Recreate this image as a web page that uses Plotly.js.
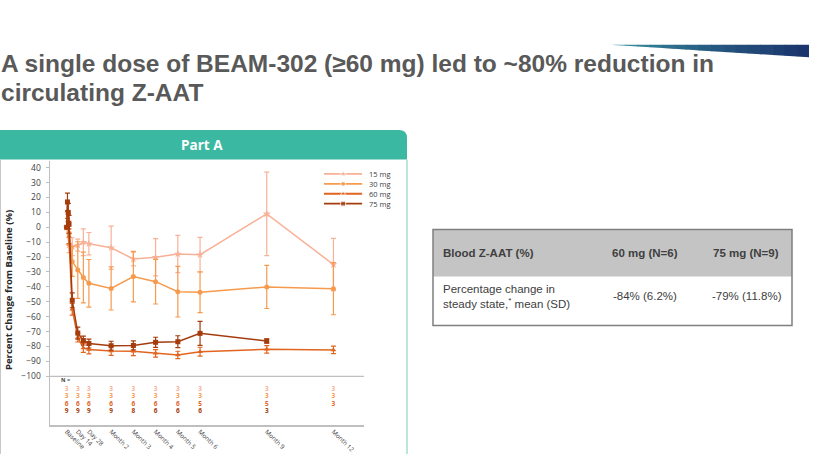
<!DOCTYPE html>
<html><head><meta charset="utf-8">
<script src="https://cdn.plot.ly/plotly-3.0.1.min.js"></script>
<style>html,body{margin:0;padding:0;background:#fff;overflow:hidden}#chart{width:831px;height:454px}</style>
</head><body><div id="chart"></div>
<script>
const W = 831, H = 454;
// ---- data (days from baseline; months = 28-day blocks) ----
const days = [0, 1, 2, 3, 7, 14, 21, 28, 56, 84, 112, 140, 168, 252, 336];
const mg15 = [0, null, null, -12, -13, -12, -10, -11, -13.7, -21.3, -20.1, -17.9, -18.4, 9, -25];
const sd15 = [0, null, null, 5, 6, 4, 9, 7.5, 14.5, 4.6, 12.5, 12.5, 11.6, 28, 17.5];
const mg30 = [0, null, null, -4, -23, -28.7, -33.7, -37.6, -41, -33.1, -36.5, -43.2, -43.6, -40, -41.2];
const sd30 = [0, null, null, 8, 10, 19, 17, 16, 14.5, 17, 15, 17, 13.7, 14.5, 17.5];
const mg60 = [0, 11, 4, -6, -55, -74, -81, -82, -83, -83.2, -84.6, -85.7, -83.5, -81.9, -82.3];
const sd60 = [0, 5, 5, 5, 4, 3, 3, 3, 3, 3, 2.5, 2.5, 3, 2.5, 2.5];
const mg75 = [0, 17, 10, 2, -49, -71, -76, -78, -79.5, -79.3, -77.2, -76.8, -71.2, -76.3, null];
const sd75 = [0, 6, 6, 6, 5, 4, 3, 3, 3, 3, 3.4, 4, 8, 1.5, null];
const seriesNames = ['15 mg', '30 mg', '60 mg', '75 mg'];
const tickDays = [0, 14, 28, 56, 84, 112, 140, 168, 252, 336];
const tickLabels = ['Baseline', 'Day 14', 'Day 28', 'Month 2', 'Month 3', 'Month 4', 'Month 5', 'Month 6', 'Month 9', 'Month 12'];
const yTicks = [40, 30, 20, 10, 0, -10, -20, -30, -40, -50, -60, -70, -80, -90, -100];
const n15 = [3, 3, 3, 3, 3, 3, 3, 3, 3, 3];
const n30 = [3, 3, 3, 3, 3, 3, 3, 3, 3, 3];
const n60 = [6, 6, 6, 6, 6, 6, 6, 5, 5, 3];
const n75 = [9, 9, 9, 9, 8, 6, 6, 6, 3, null];
const tableHeader = ['Blood Z-AAT (%)', '60 mg (N=6)', '75 mg (N=9)'];
const tableRow = ['Percentage change in<br>steady state,<sup>*</sup> mean (SD)', '-84% (6.2%)', '-79% (11.8%)'];
const titleLines = ['A single dose of BEAM-302 (\u226560 mg) led to ~80% reduction in', 'circulating Z-AAT'];

// ---- styles ----
const colors = ['#F8B197', '#F79A4E', '#E2651F', '#A43C0D'];
const symbols = ['star', 'circle', 'triangle-up', 'square'];
const chartFont = 'Open Sans, Noto Sans, sans-serif';
const px = x => x / W, py = y => 1 - y / H;

const vals = [mg15, mg30, mg60, mg75];
const sds = [sd15, sd30, sd60, sd75];
const ns = [n15, n30, n60, n75];
const nRowY = [-108.5, -113.5, -118.6, -123.8];

const traces = [];
vals.forEach((v, i) => {
  traces.push({
    type: 'scatter', mode: 'lines+markers', x: days, y: v, name: seriesNames[i],
    connectgaps: true, showlegend: false, cliponaxis: false,
    line: {color: colors[i], width: 1.5},
    marker: {color: colors[i], symbol: symbols[i], size: i === 0 ? 6 : 5},
    error_y: {type: 'data', array: sds[i], visible: true, color: colors[i], thickness: 1.2, width: 2.5}
  });
});
ns.forEach((n, i) => {
  const idx = n.map((v, k) => v == null ? -1 : k).filter(k => k >= 0);
  traces.push({
    type: 'scatter', mode: 'text', x: idx.map(k => tickDays[k]), y: idx.map(() => nRowY[i]),
    text: idx.map(k => '<b>' + n[k] + '</b>'), showlegend: false, hoverinfo: 'skip', cliponaxis: false,
    textfont: {family: chartFont, size: 6.5, color: colors[i]}
  });
});
// legend swatches (overlay axes 2)
seriesNames.forEach((nm, i) => {
  traces.push({
    type: 'scatter', mode: 'lines+markers', x: [0, 0.5, 1], y: [i, i, i], xaxis: 'x2', yaxis: 'y2',
    showlegend: false, hoverinfo: 'skip', cliponaxis: false,
    line: {color: colors[i], width: 1.8},
    marker: {color: colors[i], symbol: symbols[i], size: [0, i === 0 ? 6 : 5, 0]}
  });
});

const shapes = [];
const annotations = [];
// panel header with rounded top-right corner
shapes.push({type: 'path', xref: 'paper', yref: 'paper', layer: 'below',
  path: `M ${px(-3)},${py(159.5)} L ${px(-3)},${py(130)} L ${px(399)},${py(130)} Q ${px(407)},${py(130)} ${px(407)},${py(138)} L ${px(407)},${py(159.5)} Z`,
  fillcolor: '#3BB8A2', line: {width: 0}});
shapes.push({type: 'line', xref: 'paper', yref: 'paper', x0: px(407), x1: px(407), y0: py(159.5), y1: py(460),
  line: {color: '#A6DCD0', width: 1.5}});
shapes.push({type: 'line', xref: 'paper', yref: 'paper', x0: px(0.5), x1: px(0.5), y0: py(159.5), y1: py(460),
  line: {color: '#C8C8C8', width: 1}});
// separator line at -100
shapes.push({type: 'line', xref: 'x domain', yref: 'y', x0: 0, x1: 1, y0: -100, y1: -100,
  line: {color: '#BFBFBF', width: 1.2}});
// gradient wedge (top right decoration)
const wedgeN = 16, wx0 = 613, wx1 = 809;
const c0 = [60, 165, 170], c1 = [27, 52, 108];
for (let k = 0; k < wedgeN; k++) {
  const xa = wx0 + (wx1 - wx0) * k / wedgeN, xb = Math.min(wx0 + (wx1 - wx0) * (k + 1) / wedgeN + 0.6, wx1);
  const ya = 45 + (xa - wx0) / (wx1 - wx0) * 12.3, yb = 45 + (xb - wx0) / (wx1 - wx0) * 12.3;
  const t = (k + 0.5) / wedgeN;
  const c = c0.map((v, j) => Math.round(v + (c1[j] - v) * Math.pow(t, 0.6)));
  shapes.push({type: 'path', xref: 'paper', yref: 'paper',
    path: `M ${px(xa)},${py(44.7)} L ${px(xb)},${py(44.7)} L ${px(xb)},${py(yb)} L ${px(xa)},${py(ya)} Z`,
    fillcolor: `rgb(${c.join(',')})`, line: {width: 0}});
}
// table
const tx0 = 433, tx1 = 792, ty0 = 229.5, tyH = 276.5, ty1 = 325.5;
shapes.push({type: 'rect', xref: 'paper', yref: 'paper', x0: px(tx0), x1: px(tx1), y0: py(tyH), y1: py(ty0),
  fillcolor: '#C4C4C4', line: {width: 0}});
shapes.push({type: 'rect', xref: 'paper', yref: 'paper', x0: px(tx0), x1: px(tx1), y0: py(ty1), y1: py(ty0),
  fillcolor: 'rgba(0,0,0,0)', line: {color: '#7F7F7F', width: 1.5}});
const tFont = 'Liberation Sans, Arial, sans-serif';
annotations.push({xref: 'paper', yref: 'paper', x: px(441), y: py(253), xanchor: 'left', yanchor: 'middle', showarrow: false,
  text: '<b>' + tableHeader[0] + '</b>', font: {family: tFont, size: 11.5, color: '#404040'}});
annotations.push({xref: 'paper', yref: 'paper', x: px(645), y: py(253), xanchor: 'center', yanchor: 'middle', showarrow: false,
  text: '<b>' + tableHeader[1] + '</b>', font: {family: tFont, size: 11.5, color: '#404040'}});
annotations.push({xref: 'paper', yref: 'paper', x: px(746), y: py(253), xanchor: 'center', yanchor: 'middle', showarrow: false,
  text: '<b>' + tableHeader[2] + '</b>', font: {family: tFont, size: 11.5, color: '#404040'}});
annotations.push({xref: 'paper', yref: 'paper', x: px(441), y: py(296), xanchor: 'left', yanchor: 'middle', align: 'left', showarrow: false,
  text: tableRow[0], font: {family: tFont, size: 11.5, color: '#404040'}});
annotations.push({xref: 'paper', yref: 'paper', x: px(645), y: py(296), xanchor: 'center', yanchor: 'middle', showarrow: false,
  text: tableRow[1], font: {family: tFont, size: 11.5, color: '#404040'}});
annotations.push({xref: 'paper', yref: 'paper', x: px(747), y: py(296), xanchor: 'center', yanchor: 'middle', showarrow: false,
  text: tableRow[2], font: {family: tFont, size: 11.5, color: '#404040'}});
// title
annotations.push({xref: 'paper', yref: 'paper', x: px(-1), y: py(64), xanchor: 'left', yanchor: 'middle', showarrow: false,
  text: '<b>' + titleLines[0] + '</b>', font: {family: tFont, size: 24.5, color: '#595959'}});
annotations.push({xref: 'paper', yref: 'paper', x: px(-1), y: py(92), xanchor: 'left', yanchor: 'middle', showarrow: false,
  text: '<b>' + titleLines[1] + '</b>', font: {family: tFont, size: 24.5, color: '#595959'}});
// panel title
annotations.push({xref: 'paper', yref: 'paper', x: px(202), y: py(145), xanchor: 'center', yanchor: 'middle', showarrow: false,
  text: '<b>Part A</b>', font: {family: chartFont, size: 13.5, color: '#FFFFFF'}});
// y axis title
annotations.push({xref: 'paper', yref: 'paper', x: px(8), y: py(290), xanchor: 'center', yanchor: 'middle', showarrow: false,
  textangle: -90, text: '<b>Percent Change from Baseline (%)</b>', font: {family: chartFont, size: 9.5, color: '#262626'}});
// N = label
annotations.push({xref: 'x', yref: 'y', x: -1, y: -102.5, xanchor: 'center', yanchor: 'middle', showarrow: false,
  text: '<b>N =</b>', font: {family: chartFont, size: 5.5, color: '#404040'}});
// legend labels
seriesNames.forEach((nm, i) => {
  annotations.push({xref: 'paper', yref: 'y2', x: px(367), y: i, xanchor: 'left', yanchor: 'middle', showarrow: false,
    text: nm, font: {family: chartFont, size: 7.5, color: '#404040'}});
});

const layout = {
  width: W, height: H, margin: {l: 0, r: 0, t: 0, b: 0},
  paper_bgcolor: '#FFFFFF', plot_bgcolor: '#FFFFFF', showlegend: false,
  font: {family: chartFont, color: '#404040'},
  xaxis: {domain: [px(50), px(364)], range: [-21, 374.5], tickvals: tickDays, ticktext: tickLabels, tickangle: 45,
    ticklabelstandoff: -1,
    tickfont: {family: chartFont, size: 6.3, color: '#404040'}, showline: true, linecolor: '#BFBFBF', linewidth: 1.5,
    showgrid: false, zeroline: false, ticks: '', anchor: 'y', fixedrange: true},
  yaxis: {domain: [py(425), py(161)], range: [-132.7, 44.5], tickvals: yTicks, ticklabelstandoff: 3,
    tickfont: {family: chartFont, size: 8.5, color: '#404040'}, showline: true, linecolor: '#BFBFBF', linewidth: 1.5,
    ticks: 'outside', ticklen: 3, tickcolor: '#BFBFBF', showgrid: false, zeroline: false, anchor: 'x', fixedrange: true},
  xaxis2: {domain: [px(324), px(362.3)], range: [0, 1], visible: false, anchor: 'y2', fixedrange: true},
  yaxis2: {domain: [py(208.6), py(169)], range: [3.5, -0.5], visible: false, anchor: 'x2', fixedrange: true},
  shapes: shapes, annotations: annotations
};
Plotly.newPlot('chart', traces, layout, {displayModeBar: false, staticPlot: true});
</script></body></html>
